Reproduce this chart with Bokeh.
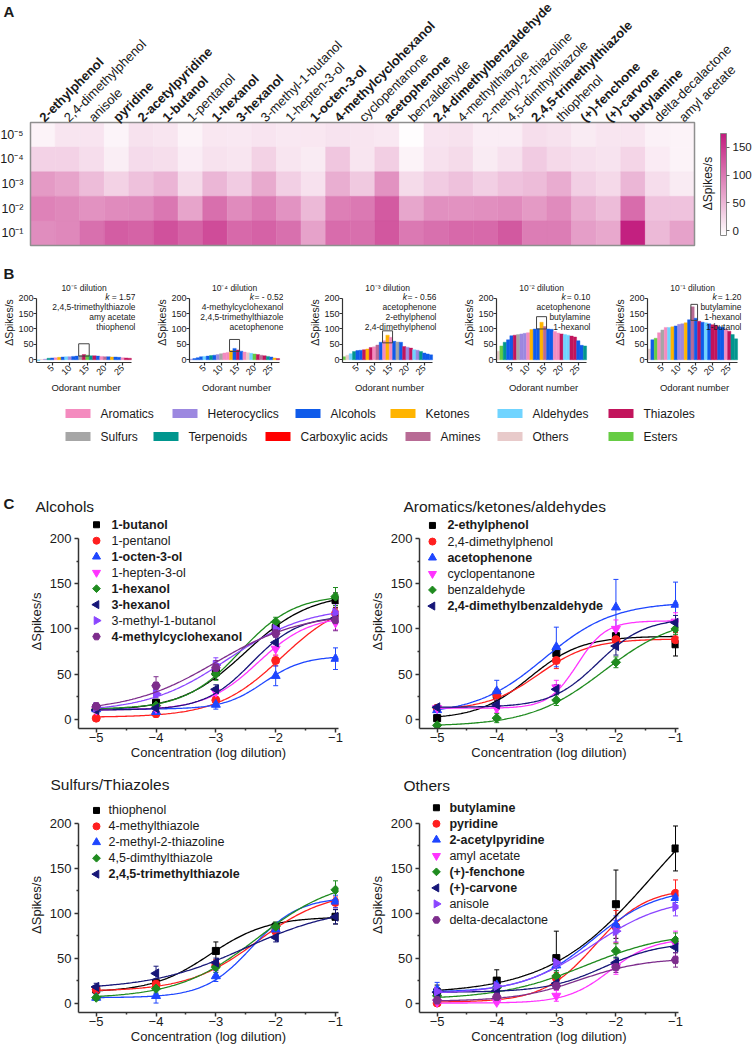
import numpy as np
from bokeh.plotting import figure
from bokeh.layouts import column, row
from bokeh.models import (ColumnDataSource, Range1d, FixedTicker, LinearColorMapper, ColorBar,
                          Whisker, TeeHead)
from bokeh.core.properties import value, field
from bokeh.embed import file_html
from bokeh.resources import INLINE

FONT = "Liberation Sans"
INK = "#1a1a1a"

# ---------------------------------------------------------------- data
odorants = ["2-ethylphenol", "2,4-dimethylphenol", "anisole", "pyridine", "2-acetylpyridine",
            "1-butanol", "1-pentanol", "1-hexanol", "3-hexanol", "3-methyl-1-butanol",
            "1-hepten-3-ol", "1-octen-3-ol", "4-methylcyclohexanol", "cyclopentanone",
            "acetophenone", "benzaldehyde", "2,4-dimethylbenzaldehyde", "4-methylthiazole",
            "2-methyl-2-thiazoline", "4,5-dimthylthiazole", "2,4,5-trimethylthiazole",
            "thiophenol", "(+)-fenchone", "(+)-carvone", "butylamine", "delta-decalactone",
            "amyl acetate"]
bold_odorants = ["2-ethylphenol", "pyridine", "2-acetylpyridine", "1-butanol", "1-hexanol",
                 "3-hexanol", "1-octen-3-ol", "4-methylcyclohexanol", "acetophenone",
                 "2,4-dimethylbenzaldehyde", "2,4,5-trimethylthiazole", "(+)-fenchone",
                 "(+)-carvone", "butylamine"]
dilution_labels = ["10⁻⁵", "10⁻⁴", "10⁻³", "10⁻²", "10⁻¹"]
log_conc = [-5, -4, -3, -2, -1]

# mean response (ΔSpikes/s) at 10^-5 ... 10^-1
resp_mean = {
    "2-ethylphenol": [1, 27, 73, 92, 83],
    "2,4-dimethylphenol": [12, 27, 65, 88, 88],
    "anisole": [13, 19, 45, 80, 107],
    "pyridine": [0, 5, 28, 85, 122],
    "2-acetylpyridine": [15, 20, 42, 87, 117],
    "1-butanol": [12, 18, 52, 101, 132],
    "1-pentanol": [1, 6, 21, 65, 117],
    "1-hexanol": [11, 15, 50, 108, 136],
    "3-hexanol": [10, 12, 33, 85, 112],
    "3-methyl-1-butanol": [13, 28, 60, 100, 118],
    "1-hepten-3-ol": [10, 12, 30, 78, 107],
    "1-octen-3-ol": [11, 8, 16, 48, 67],
    "4-methylcyclohexanol": [14, 37, 57, 95, 110],
    "cyclopentanone": [12, 12, 35, 100, 108],
    "acetophenone": [10, 31, 80, 124, 127],
    "benzaldehyde": [-7, 1, 21, 63, 100],
    "2,4-dimethylbenzaldehyde": [13, 16, 33, 81, 107],
    "4-methylthiazole": [15, 21, 42, 80, 112],
    "2-methyl-2-thiazoline": [6, 8, 30, 82, 113],
    "4,5-dimthylthiazole": [6, 16, 40, 85, 126],
    "2,4,5-trimethylthiazole": [18, 33, 45, 73, 96],
    "thiophenol": [15, 22, 58, 85, 96],
    "(+)-fenchone": [8, 17, 30, 58, 70],
    "(+)-carvone": [12, 14, 22, 45, 62],
    "butylamine": [12, 25, 50, 110, 172],
    "delta-decalactone": [3, 7, 19, 40, 48],
    "amyl acetate": [1, 1, 8, 40, 66],
}
resp_sem = {
    "1-butanol": [3, 4, 8, 6, 8], "1-pentanol": [2, 4, 4, 6, 6],
    "1-octen-3-ol": [3, 3, 5, 11, 12], "1-hepten-3-ol": [3, 3, 5, 8, 8],
    "1-hexanol": [3, 4, 7, 5, 10], "3-hexanol": [3, 3, 5, 6, 6],
    "3-methyl-1-butanol": [4, 4, 8, 8, 10], "4-methylcyclohexanol": [4, 10, 8, 8, 12],
    "2-ethylphenol": [3, 6, 8, 10, 13], "2,4-dimethylphenol": [3, 6, 9, 8, 8],
    "acetophenone": [5, 12, 22, 31, 25], "cyclopentanone": [3, 5, 8, 10, 10],
    "benzaldehyde": [2, 5, 6, 6, 6], "2,4-dimethylbenzaldehyde": [3, 4, 5, 10, 8],
    "thiophenol": [4, 5, 10, 5, 8], "4-methylthiazole": [4, 5, 6, 6, 6],
    "2-methyl-2-thiazoline": [3, 8, 6, 6, 7], "4,5-dimthylthiazole": [3, 5, 6, 5, 10],
    "2,4,5-trimethylthiazole": [4, 8, 5, 5, 8],
    "butylamine": [8, 12, 30, 38, 25], "pyridine": [2, 3, 6, 18, 15],
    "2-acetylpyridine": [8, 6, 6, 10, 5], "amyl acetate": [2, 2, 6, 8, 14],
    "(+)-fenchone": [4, 4, 6, 8, 8], "(+)-carvone": [3, 3, 4, 6, 6],
    "anisole": [4, 4, 6, 12, 10], "delta-decalactone": [3, 4, 4, 6, 8],
}
# sigmoid fit (bottom, top, logEC50, hill slope)
fit_params = {
    "1-butanol": (9, 140, -2.5, 0.8), "1-pentanol": (2, 135, -1.9, 0.8),
    "1-octen-3-ol": (11, 70, -2.2, 1.3), "1-hepten-3-ol": (10, 115, -2.3, 1.0),
    "1-hexanol": (11, 138, -2.6, 0.95), "3-hexanol": (10, 115, -2.4, 1.1),
    "3-methyl-1-butanol": (8, 125, -2.8, 0.65), "4-methylcyclohexanol": (8, 118, -3.0, 0.6),
    "2-ethylphenol": (0, 92, -3.45, 1.0), "2,4-dimethylphenol": (10, 89, -3.3, 1.0),
    "acetophenone": (5, 130, -3.2, 0.75), "cyclopentanone": (12, 109, -2.65, 1.8),
    "benzaldehyde": (-8, 115, -2.2, 0.7), "2,4-dimethylbenzaldehyde": (13, 112, -2.3, 1.1),
    "thiophenol": (12, 96, -3.1, 0.9), "4-methylthiazole": (13, 125, -2.3, 0.75),
    "2-methyl-2-thiazoline": (6, 118, -2.4, 1.1), "4,5-dimthylthiazole": (5, 140, -2.3, 0.65),
    "2,4,5-trimethylthiazole": (15, 108, -2.5, 0.55),
    "butylamine": (10, 270, -1.4, 0.5), "pyridine": (1, 128, -2.35, 1.0),
    "2-acetylpyridine": (12, 128, -2.4, 0.8), "amyl acetate": (0, 72, -2.1, 1.2),
    "(+)-fenchone": (4, 80, -2.5, 0.6), "(+)-carvone": (12, 68, -2.2, 0.9),
    "anisole": (10, 118, -2.4, 0.7), "delta-decalactone": (2, 50, -2.6, 0.8),
}

c_groups = [
    ("Alcohols", ["1-butanol", "1-pentanol", "1-octen-3-ol", "1-hepten-3-ol", "1-hexanol",
                  "3-hexanol", "3-methyl-1-butanol", "4-methylcyclohexanol"]),
    ("Aromatics/ketones/aldehydes", ["2-ethylphenol", "2,4-dimethylphenol", "acetophenone",
                                     "cyclopentanone", "benzaldehyde", "2,4-dimethylbenzaldehyde"]),
    ("Sulfurs/Thiazoles", ["thiophenol", "4-methylthiazole", "2-methyl-2-thiazoline",
                           "4,5-dimthylthiazole", "2,4,5-trimethylthiazole"]),
    ("Others", ["butylamine", "pyridine", "2-acetylpyridine", "amyl acetate", "(+)-fenchone",
                "(+)-carvone", "anisole", "delta-decalactone"]),
]
# which symbol/colour (0..7) each series of a group uses
c_style_index = [[0, 1, 2, 3, 4, 5, 6, 7], [0, 1, 2, 3, 4, 5], [0, 1, 2, 4, 5],
                 [0, 1, 2, 3, 4, 5, 6, 7]]

# panel B: tuning curves (bar heights by rank position 1..27, and class of each bar)
class_names = ["Aromatics", "Heterocyclics", "Alcohols", "Ketones", "Aldehydes", "Thiazoles",
               "Sulfurs", "Terpenoids", "Carboxylic acids", "Amines", "Others", "Esters"]
class_colors = ["#F48BBF", "#9C88E0", "#0F5BEA", "#FFB400", "#70D4FF", "#C2145C",
                "#A6A6A6", "#00968E", "#FF0000", "#B86B95", "#E8CACA", "#66CC44"]
b_titles = ["10⁻⁵ dilution", "10⁻⁴ dilution", "10⁻³ dilution", "10⁻² dilution", "10⁻¹ dilution"]
b_kurtosis = ["1.57", "- 0.52", "- 0.56", "0.10", "1.20"]
b_top3 = [["2,4,5-trimethylthiazole", "amy acetate", "thiophenol"],
          ["4-methylcyclohexanol", "2,4,5-trimethylthiazole", "acetophenone"],
          ["acetophenone", "2-ethylphenol", "2,4-dimethylphenol"],
          ["acetophenone", "butylamine", "1-hexanol"],
          ["butylamine", "1-hexanol", "1-butanol"]]
b_heights = [
    [-3, 1, 2, 5, 6, 7, 8, 9, 10, 10, 11, 12, 14, 17, 15, 13, 13, 12, 11, 10, 10, 9, 9, 8, 7, 6, 5],
    [2, 4, 7, 10, 11, 12, 14, 15, 17, 20, 22, 24, 30, 37, 32, 28, 25, 23, 21, 19, 17, 15, 13, 11, 9, 6, 4],
    [10, 15, 20, 27, 30, 31, 33, 35, 40, 42, 48, 57, 62, 80, 73, 60, 58, 57, 43, 41, 38, 33, 31, 27, 22, 19, 16],
    [28, 45, 57, 65, 78, 80, 82, 84, 86, 88, 98, 100, 101, 122, 108, 100, 99, 92, 87, 84, 82, 80, 77, 74, 62, 47, 45],
    [35, 65, 70, 88, 97, 105, 105, 107, 110, 115, 117, 120, 130, 172, 135, 125, 122, 120, 117, 114, 112, 107, 106, 100, 93, 82, 68],
]
b_classes = [
    ["Aldehydes", "Others", "Heterocyclics", "Terpenoids", "Alcohols", "Aromatics", "Ketones", "Alcohols",
     "Aldehydes", "Heterocyclics", "Alcohols", "Alcohols", "Sulfurs", "Thiazoles", "Esters", "Terpenoids",
     "Thiazoles", "Alcohols", "Aromatics", "Amines", "Alcohols", "Ketones", "Alcohols", "Alcohols",
     "Aromatics", "Thiazoles", "Thiazoles"],
    ["Heterocyclics", "Alcohols", "Alcohols", "Alcohols", "Aldehydes", "Alcohols", "Terpenoids", "Alcohols",
     "Heterocyclics", "Sulfurs", "Aromatics", "Aromatics", "Ketones", "Alcohols", "Thiazoles", "Alcohols",
     "Aromatics", "Others", "Aldehydes", "Esters", "Thiazoles", "Amines", "Thiazoles", "Terpenoids",
     "Alcohols", "Ketones", "Thiazoles"],
    ["Esters", "Others", "Aldehydes", "Terpenoids", "Alcohols", "Alcohols", "Thiazoles", "Ketones",
     "Thiazoles", "Aromatics", "Amines", "Alcohols", "Aromatics", "Ketones", "Aromatics", "Alcohols",
     "Sulfurs", "Alcohols", "Thiazoles", "Heterocyclics", "Thiazoles", "Aldehydes", "Heterocyclics",
     "Terpenoids", "Alcohols", "Alcohols", "Alcohols"],
    ["Others", "Esters", "Terpenoids", "Alcohols", "Alcohols", "Thiazoles", "Sulfurs", "Heterocyclics",
     "Heterocyclics", "Aromatics", "Ketones", "Alcohols", "Alcohols", "Ketones", "Amines", "Alcohols",
     "Alcohols", "Aromatics", "Aromatics", "Thiazoles", "Aldehydes", "Aldehydes", "Thiazoles", "Thiazoles",
     "Alcohols", "Alcohols", "Terpenoids"],
    ["Others", "Alcohols", "Esters", "Aromatics", "Sulfurs", "Aromatics", "Aldehydes", "Ketones",
     "Alcohols", "Heterocyclics", "Heterocyclics", "Ketones", "Alcohols", "Amines", "Alcohols", "Thiazoles",
     "Alcohols", "Aldehydes", "Alcohols", "Thiazoles", "Thiazoles", "Alcohols", "Alcohols", "Aromatics",
     "Thiazoles", "Terpenoids", "Terpenoids"],
]
b_box_ranks = [[13, 15], [13, 15], [13, 15], [13, 15], [14, 15]]
b_box_values = [[12, 52], [27, 66], [55, 94], [100, 140], [128, 180]]

# ---------------------------------------------------------------- helpers
W = 752
CW = {" ": 0.278, "=": 0.584, "-": 0.333, ".": 0.278}


def text_w(s, px):
    return sum(CW.get(ch, 0.556) for ch in s) * px


def base_fig(width, height, xr, yr, axes=True, **kw):
    extra = {} if axes else dict(x_axis_location=None, y_axis_location=None, min_border=0)
    extra.update(kw)
    p = figure(width=width, height=height, x_range=Range1d(*xr), y_range=Range1d(*yr),
               title=None, output_backend="svg", toolbar_location=None, **extra)
    p.grid.visible = False
    p.outline_line_color = None
    return p


def style_axis(ax, tick_px, label_px, lw=1.3):
    ax.axis_line_color = "#333333"
    ax.axis_line_width = lw
    ax.major_tick_line_color = "#333333"
    ax.major_tick_line_width = lw
    ax.minor_tick_line_color = "#333333"
    ax.minor_tick_line_width = lw
    ax.major_tick_in = 0
    ax.minor_tick_in = 0
    ax.major_label_text_font = FONT
    ax.major_label_text_font_size = tick_px
    ax.major_label_text_color = INK
    ax.axis_label_text_font = FONT
    ax.axis_label_text_font_size = label_px
    ax.axis_label_text_font_style = "normal"
    ax.axis_label_text_color = INK


class Frame:
    """pixel offsets (from frame left / top) -> data coordinates"""
    def __init__(self, xr, yr, fw, fh):
        self.xr, self.yr, self.fw, self.fh = xr, yr, fw, fh

    def x(self, px):
        return self.xr[0] + px / self.fw * (self.xr[1] - self.xr[0])

    def y(self, py):
        return self.yr[1] - py / self.fh * (self.yr[1] - self.yr[0])


def put_text(p, fr, px, py, text, size, style="normal", align="left", angle=0.0):
    p.text(x=[fr.x(px)], y=[fr.y(py)], text=[text], angle=angle, text_align=align,
           text_baseline="middle", text_font=value(FONT), text_font_size=value(size),
           text_font_style=style, text_color=INK)


cls_color = dict(zip(class_names, class_colors))

# ---------------------------------------------------------------- panel A (+ letter B)
n_od = len(odorants)
A_H = 282
CELL_X, CELL_Y, HM_LEFT, HM_BOTTOM = 24.593, 24.6, 30, 245
a_xr = (-HM_LEFT / CELL_X, (W - HM_LEFT) / CELL_X)
a_yr = (-(A_H - HM_BOTTOM) / CELL_Y, HM_BOTTOM / CELL_Y)
fa = Frame(a_xr, a_yr, W, A_H)
pa = base_fig(W, A_H, a_xr, a_yr, axes=False)

c0 = np.array([255, 255, 255])
c1 = np.array([194, 28, 126])
palette = ["#%02x%02x%02x" % tuple(int(round(v)) for v in (c0 + (c1 - c0) * t))
           for t in np.linspace(0, 1, 256)]
mapper = LinearColorMapper(palette=palette, low=-9, high=175)

hx, hy, hv = [], [], []
for j, o in enumerate(odorants):
    for d in range(5):
        hx.append(j + 0.5)
        hy.append(4.5 - d)
        hv.append(resp_mean[o][d])
hsrc = ColumnDataSource(dict(x=hx, y=hy, v=hv))
pa.rect(x="x", y="y", width=1, height=1, source=hsrc,
        fill_color={"field": "v", "transform": mapper},
        line_color={"field": "v", "transform": mapper}, line_width=0.5)
pa.rect(x=[n_od / 2], y=[2.5], width=n_od, height=5, fill_color=None,
        line_color="#8f8f8f", line_width=1.5)

lsrc = ColumnDataSource(dict(x=[j + 0.45 for j in range(n_od)], y=[5.12] * n_od, text=odorants,
                             style=["bold" if o in bold_odorants else "normal" for o in odorants]))
pa.text(x="x", y="y", text="text", source=lsrc, angle=np.pi / 4, text_align="left",
        text_baseline="middle", text_font=value(FONT), text_font_size=value("13px"),
        text_font_style=field("style"), text_color=INK)
rsrc = ColumnDataSource(dict(x=[fa.x(23)] * 5, y=[4.5 - d for d in range(5)], text=dilution_labels))
pa.text(x="x", y="y", text="text", source=rsrc, text_align="right", text_baseline="middle",
        text_font=value(FONT), text_font_size=value("12.5px"), text_color=INK)

cb = ColorBar(color_mapper=mapper, ticker=FixedTicker(ticks=[0, 50, 100, 150]), width=6, height=102,
              location=(720, A_H - 235), orientation="vertical", padding=0, margin=0, label_standoff=3,
              major_label_text_font=FONT, major_label_text_font_size="11.5px",
              major_label_text_color=INK, major_tick_in=0, major_tick_out=3,
              major_tick_line_color="#666666", minor_tick_line_color=None,
              bar_line_color="#888888", border_line_color=None, background_fill_color=None)
pa.add_layout(cb)
put_text(pa, fa, 707, 183, "ΔSpikes/s", "12px", align="center", angle=np.pi / 2)
put_text(pa, fa, 3, 11, "A", "15px", style="bold")
put_text(pa, fa, 3, 273, "B", "15px", style="bold")

# ---------------------------------------------------------------- panel B
B_H, B_FH, B_FW, B_BOT = 113, 80, 100, 33
B_PX_X, B_PX_Y = 3.55, 0.308
b_xr = (0.5, 0.5 + B_FW / B_PX_X)
b_yr = (-8.8, -8.8 + B_FH / B_PX_Y)
fb = Frame(b_xr, b_yr, B_FW, B_FH)
b_widths = [153, 153, 154, 151, 141]
b_lefts = [35, 30, 30, 30, 30]
bfigs = []
for i in range(5):
    w = b_widths[i]
    p = base_fig(w, B_H, b_xr, b_yr, min_border_left=b_lefts[i],
                 min_border_right=w - b_lefts[i] - B_FW, min_border_top=0, min_border_bottom=B_BOT)
    ranks = list(range(1, n_od + 1))
    cols = [cls_color[c] for c in b_classes[i]]
    src = ColumnDataSource(dict(x=ranks, top=b_heights[i], color=cols))
    p.vbar(x="x", top="top", bottom=0, width=1, source=src, fill_color="color",
           line_color="color", line_width=0.4)
    r0, r1 = b_box_ranks[i]
    v0, v1 = b_box_values[i]
    p.quad(left=[r0 - 0.5], right=[r1 + 0.5], bottom=[v0], top=[v1], fill_color=None,
           line_color="#444444", line_width=1)
    style_axis(p.xaxis[0], "9px", "9.5px", lw=1.2)
    style_axis(p.yaxis[0], "9px", "10.5px", lw=1.2)
    p.xaxis.ticker = FixedTicker(ticks=[5, 10, 15, 20, 25], minor_ticks=[])
    p.yaxis.ticker = FixedTicker(ticks=[0, 50, 100, 150, 200], minor_ticks=[])
    p.xaxis.bounds = (0.5, n_od + 0.5)
    p.yaxis.bounds = (b_yr[0], 200)
    p.xaxis.major_label_orientation = np.pi / 4
    p.xaxis.axis_label = "Odorant number"
    p.yaxis.axis_label = "ΔSpikes/s"
    for ax in (p.xaxis[0], p.yaxis[0]):
        ax.major_tick_out = 3
        ax.major_label_standoff = 1
        ax.axis_label_standoff = 1
    p.yaxis.major_label_standoff = 0
    p.yaxis.axis_label_standoff = 0
    put_text(p, fb, 48, 5, b_titles[i], "8.5px", align="center")
    rest = "= " + b_kurtosis[i]
    put_text(p, fb, B_FW, 14.5, rest, "8.5px", align="right")
    put_text(p, fb, B_FW - text_w(" " + rest, 8.5), 14.5, "k", "8.5px", style="italic", align="right")
    for k, nm in enumerate(b_top3[i]):
        put_text(p, fb, B_FW, 24.5 + 10 * k, nm, "8.5px", align="right")
    bfigs.append(p)

# ---------------------------------------------------------------- class legend
L_H = 53
pl = base_fig(W, L_H, (0, W), (L_H, 0), axes=False)
leg_rows = [class_names[:6], class_names[6:]]
leg_x = [[65, 172, 295, 390, 497, 608], [65, 153, 265, 405, 497, 608]]
leg_y = [18, 41]
sx, sy, scol, tx, ty, tt = [], [], [], [], [], []
for rr in range(2):
    for cc, cname in enumerate(leg_rows[rr]):
        sx.append(leg_x[rr][cc] + 12.5)
        sy.append(leg_y[rr])
        scol.append(cls_color[cname])
        tx.append(leg_x[rr][cc] + 35)
        ty.append(leg_y[rr])
        tt.append(cname)
pl.rect(x=sx, y=sy, width=25, height=9, fill_color=scol, line_color=None)
pl.text(x=tx, y=ty, text=tt, text_align="left", text_baseline="middle", text_font=value(FONT),
        text_font_size=value("12px"), text_color=INK)

# ---------------------------------------------------------------- panel C headers
H1, H2 = 66, 35
ph1 = base_fig(W, H1, (0, W), (H1, 0), axes=False)
fh1 = Frame((0, W), (H1, 0), W, H1)
put_text(ph1, fh1, 3, 55, "C", "15px", style="bold")
put_text(ph1, fh1, 35, 58, c_groups[0][0], "15.5px")
put_text(ph1, fh1, 403, 58, c_groups[1][0], "15.5px")
ph2 = base_fig(W, H2, (0, W), (H2, 0), axes=False)
fh2 = Frame((0, W), (H2, 0), W, H2)
put_text(ph2, fh2, 50, 22, c_groups[2][0], "15.5px")
put_text(ph2, fh2, 403, 23, c_groups[3][0], "15.5px")

# ---------------------------------------------------------------- panel C plots
c_colors = ["#000000", "#FF1F1F", "#1E46FF", "#FF33FF", "#1F8B1F", "#161678", "#8A45FF", "#7D2D8C"]
c_markers = ["square", "circle", "triangle", "inverted_triangle", "square", "triangle", "triangle", "hex"]
c_angles = [0, 0, 0, 0, np.pi / 4, np.pi / 2, -np.pi / 2, 0]
c_sizes = [7, 8, 9, 9, 6.5, 9, 9, 8.5]
C_XPX = 59.8
C_YPX = [0.905, 0.903]
C_FH = [215, 216]
C_FIGH = [248, 249]
C_BOT = 33
c_xr = (-5 - 17.7 / C_XPX, -0.95)
C_FW = int(round((c_xr[1] - c_xr[0]) * C_XPX))
c_w = [366, 386]
c_left = [78, 52]
# legend: marker dx, label dx (from frame left), first entry centre (from frame top), spacing
c_leg = [(18, 33, 10.3, 16.05), (13, 28, 11.0, 16.2), (18, 30, 13.0, 16.0), (17, 30, 10.3, 16.1)]

xs = np.linspace(-5, -1, 161)
cfigs = []
for gi, (gtitle, names) in enumerate(c_groups):
    rr, cc = gi // 2, gi % 2
    fhh = C_FH[rr]
    yr = (-10.5, -10.5 + fhh / C_YPX[rr])
    fr = Frame(c_xr, yr, C_FW, fhh)
    w = c_w[cc]
    p = base_fig(w, C_FIGH[rr], c_xr, yr, min_border_left=c_left[cc],
                 min_border_right=w - c_left[cc] - C_FW, min_border_top=0, min_border_bottom=C_BOT)
    style_axis(p.xaxis[0], "13px", "13px", lw=1.5)
    style_axis(p.yaxis[0], "13px", "13px", lw=1.5)
    p.xaxis.ticker = FixedTicker(ticks=log_conc, minor_ticks=[-4.5, -3.5, -2.5, -1.5])
    p.yaxis.ticker = FixedTicker(ticks=[0, 50, 100, 150, 200], minor_ticks=[25, 75, 125, 175])
    p.yaxis.bounds = (-10.5, 200)
    p.xaxis.axis_label = "Concentration (log dilution)"
    p.yaxis.axis_label = "ΔSpikes/s"
    for ax in (p.xaxis[0], p.yaxis[0]):
        ax.major_tick_out = 4
        ax.minor_tick_out = 2
    p.xaxis.major_label_standoff = 0
    p.xaxis.axis_label_standoff = 0
    p.yaxis.major_label_standoff = 3
    p.yaxis.axis_label_standoff = 3
    mdx, ldx, ly0, ldy = c_leg[gi]
    for k, name in enumerate(names):
        si = c_style_index[gi][k]
        col = c_colors[si]
        b, t, ec, hs = fit_params[name]
        ys = b + (t - b) / (1 + 10 ** ((ec - xs) * hs))
        p.line(xs, ys, line_color=col, line_width=1.3)
        m = np.array(resp_mean[name], dtype=float)
        e = np.array(resp_sem[name], dtype=float)
        src = ColumnDataSource(dict(x=log_conc, y=m, lo=m - e, hi=m + e))
        p.add_layout(Whisker(source=src, base="x", upper="hi", lower="lo", line_color=col,
                             line_width=1,
                             upper_head=TeeHead(size=5, line_color=col, line_width=1),
                             lower_head=TeeHead(size=5, line_color=col, line_width=1)))
        p.scatter("x", "y", source=src, marker=c_markers[si], angle=c_angles[si],
                  size=c_sizes[si], fill_color=col, line_color=col)
        # legend entry
        cy = ly0 + ldy * k
        p.scatter(x=[fr.x(mdx)], y=[fr.y(cy)], marker=c_markers[si], angle=c_angles[si],
                  size=c_sizes[si] - 1, fill_color=col, line_color=col)
        put_text(p, fr, ldx, cy, name, "12.5px",
                 style="bold" if name in bold_odorants else "normal")
    cfigs.append(p)

layout = column(pa, row(*bfigs), pl, ph1, row(cfigs[0], cfigs[1]), ph2, row(cfigs[2], cfigs[3]))
open("out.html", "w").write(file_html(layout, INLINE))
